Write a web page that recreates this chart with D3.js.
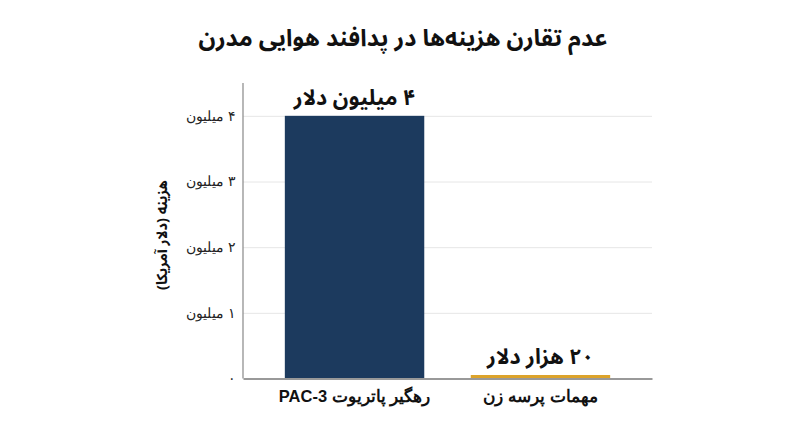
<!DOCTYPE html>
<html>
<head>
<meta charset="utf-8">
<script src="https://cdn.jsdelivr.net/npm/d3@7"></script>
<style>
  body { margin: 0; background: #fff; }
  svg { font-family: "Noto Sans Arabic", "DejaVu Sans", sans-serif; }
</style>
</head>
<body>
<svg id="chart" width="800" height="447"></svg>
<script>
// chart data
var categories = ['رهگیر پاتریوت PAC-3', 'مهمات پرسه زن'];
var costs = [4000000, 20000];
var barLabels = ['۴ میلیون دلار', '۲۰ هزار دلار'];
var barColors = ['#1c3a5e', '#dca32a'];
var yTicks = [0, 1000000, 2000000, 3000000, 4000000];
var yTickLabels = ['۰', '۱ میلیون', '۲ میلیون', '۳ میلیون', '۴ میلیون'];

var title = 'عدم تقارن هزینه‌ها در پدافند هوایی مدرن';
var yTitle = 'هزینه (دلار آمریکا)';

var margin = {top: 83, right: 148, bottom: 68.5, left: 243};
var width = 800 - margin.left - margin.right,
    height = 447 - margin.top - margin.bottom;

var svg = d3.select('#chart');

svg.append('text')
    .attr('x', 403)
    .attr('y', 46)
    .attr('text-anchor', 'middle')
    .attr('direction', 'rtl')
    .attr('font-size', 23.5)
    .attr('font-weight', 'bold')
    .attr('fill', '#111')
    .text(title);

var g = svg.append('g')
    .attr('transform', 'translate(' + margin.left + ',' + margin.top + ')');

var x = d3.scaleBand()
    .domain(categories)
    .range([0, width])
    .paddingInner(0.25)
    .paddingOuter(0.225);

var y = d3.scaleLinear()
    .domain([0, 4500000])
    .range([height, 0]);

//gridlines
g.append('g')
    .attr('class', 'grid')
    .call(d3.axisLeft(y).tickValues(yTicks.slice(1)).tickSize(-width).tickFormat(''))
    .call(function(s) {
      s.select('.domain').remove();
      s.selectAll('line').attr('stroke', '#e6e6e6').attr('stroke-width', 1);
    });

//y tick labels
g.append('g')
    .call(d3.axisLeft(y).tickValues(yTicks).tickSize(0).tickPadding(7)
      .tickFormat(function(d, i) { return yTickLabels[i]; }))
    .call(function(s) {
      s.select('.domain').remove();
      s.selectAll('text')
        .attr('direction', 'rtl')
        .attr('text-anchor', 'start')
        .attr('font-size', 14)
        .attr('fill', '#222');
    });

//bars
g.selectAll('rect.bar')
    .data(costs)
    .enter().append('rect')
    .attr('class', 'bar')
    .attr('x', function(d, i) { return x(categories[i]); })
    .attr('width', x.bandwidth())
    .attr('y', function(d) { return Math.min(y(d), height - 3.5); })
    .attr('height', function(d) { return Math.max(height - y(d), 3.5); })
    .attr('fill', function(d, i) { return barColors[i]; });

//value labels
g.selectAll('text.value')
    .data(costs)
    .enter().append('text')
    .attr('class', 'value')
    .attr('x', function(d, i) { return x(categories[i]) + x.bandwidth() / 2; })
    .attr('y', function(d) { return Math.min(y(d), height - 3.5) - 11; })
    .attr('text-anchor', 'middle')
    .attr('direction', 'rtl')
    .attr('font-size', 21.5)
    .attr('font-weight', 'bold')
    .attr('fill', '#111')
    .text(function(d, i) { return barLabels[i]; });

//axis lines
g.append('line')
    .attr('x1', 0).attr('x2', 0)
    .attr('y1', 0).attr('y2', height)
    .attr('stroke', '#888').attr('stroke-width', 1.2);

g.append('g')
    .attr('transform', 'translate(0,' + height + ')')
    .call(d3.axisBottom(x).tickSize(0).tickPadding(12))
    .call(function(s) {
      s.select('.domain').attr('stroke', '#999').attr('stroke-width', 2);
      s.selectAll('text')
        .attr('direction', 'rtl')
        .attr('font-size', 16.5)
        .attr('font-weight', 'bold')
        .attr('fill', '#111');
    });

//y axis title
svg.append('text')
    .attr('transform', 'translate(167,235) rotate(-90)')
    .attr('text-anchor', 'middle')
    .attr('direction', 'rtl')
    .attr('font-size', 14.5)
    .attr('font-weight', 'bold')
    .attr('fill', '#111')
    .text(yTitle);
</script>
</body>
</html>
